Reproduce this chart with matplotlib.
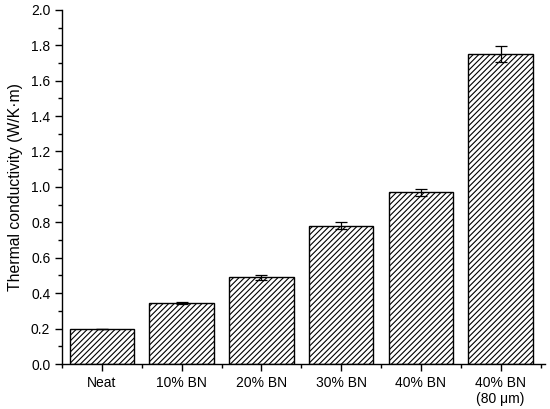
import matplotlib
matplotlib.use('Agg')
import matplotlib.pyplot as plt
import numpy as np
from matplotlib.ticker import MultipleLocator, FixedLocator

plt.rcParams['font.family'] = ['Liberation Sans', 'DejaVu Sans']
plt.rcParams['hatch.linewidth'] = 0.8

labels = ['Neat', '10% BN', '20% BN', '30% BN', '40% BN', '40% BN\n(80 \u03bcm)']
values = [0.20, 0.345, 0.49, 0.78, 0.97, 1.75]
errors = [0.0, 0.005, 0.015, 0.02, 0.02, 0.045]

fig = plt.figure(figsize=(5.5, 4.09), dpi=100)
ax = fig.add_axes([0.113, 0.11, 0.877, 0.866])

x = np.arange(len(labels))
ax.bar(x, values, width=0.81, color='white', edgecolor='black', linewidth=1.0,
       hatch='//////', yerr=errors, capsize=4,
       error_kw=dict(elinewidth=0.9, capthick=0.9, ecolor='black'))

ax.set_xlim(-0.5, 5.55)
ax.set_ylim(0, 2.0)
ax.set_xticks(x)
ax.set_xticklabels(labels, fontsize=10)
ax.xaxis.set_minor_locator(FixedLocator(np.arange(-0.5, 6.0, 1.0)))
ax.yaxis.set_major_locator(MultipleLocator(0.2))
ax.yaxis.set_minor_locator(MultipleLocator(0.1))
ax.yaxis.set_major_formatter(plt.FuncFormatter(lambda v, p: '%.1f' % v))
ax.tick_params(axis='both', which='major', direction='out', length=5, width=1.0, labelsize=10)
ax.tick_params(axis='both', which='minor', direction='out', length=3, width=1.0)

ax.spines['top'].set_visible(False)
ax.spines['right'].set_visible(False)
ax.spines['left'].set_linewidth(1.0)
ax.spines['bottom'].set_linewidth(1.0)

ax.set_ylabel('Thermal conductivity (W/K\u00b7m)', fontsize=11.3, labelpad=6)

plt.savefig('out.png', dpi=100)
